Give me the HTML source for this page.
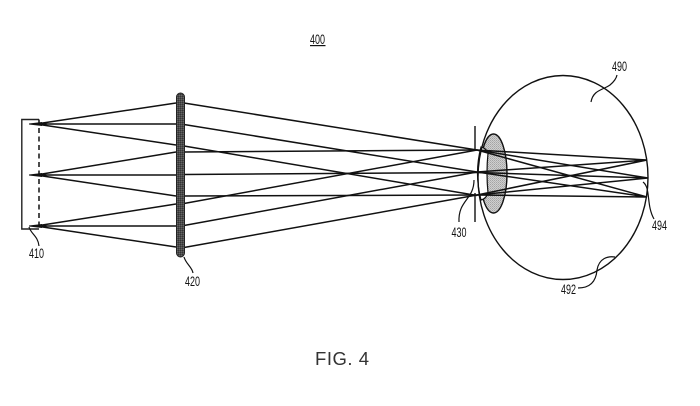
<!DOCTYPE html>
<html>
<head>
<meta charset="utf-8">
<style>
html,body{margin:0;padding:0;background:#fff;width:700px;height:406px;overflow:hidden}
svg{display:block;filter:blur(0.3px)}
text{font-family:"Liberation Sans",sans-serif;fill:#111}
</style>
</head>
<body>
<svg width="700" height="406" viewBox="0 0 700 406" xmlns="http://www.w3.org/2000/svg">
<defs>
<pattern id="d" width="2" height="2" patternUnits="userSpaceOnUse">
<rect width="2" height="2" fill="#cfcfcf"/><rect width="1" height="1" fill="#a4a4a4"/><rect x="1" y="1" width="1" height="1" fill="#b4b4b4"/>
</pattern>
<pattern id="l" width="2" height="2" patternUnits="userSpaceOnUse">
<rect width="2" height="2" fill="#4a4a4a"/><rect width="1" height="1" fill="#333"/><rect x="1" y="1" width="1" height="1" fill="#666"/>
</pattern>
</defs>

<!-- crystalline lens -->
<ellipse cx="493.5" cy="173.5" rx="13.5" ry="39.5" fill="url(#d)" stroke="#111" stroke-width="1.4"/>
<path d="M481 147 Q486 148 488 153 Q486 173 488 193 Q486 199 481 200 Q474 173 481 147Z" fill="#fff" stroke="#111" stroke-width="1.2"/>
<!-- eye -->
<ellipse cx="563" cy="177.5" rx="85" ry="102" fill="none" stroke="#111" stroke-width="1.4"/>

<g stroke="#111" stroke-width="1.5" fill="none">
<!-- source to lens -->
<path d="M36 124L176 103M36 124H176M36 124L176 145"/>
<path d="M36 175L176 152M36 175H176M36 175L176 196"/>
<path d="M36 226L176 204M36 226H176M36 226L176 247"/>
<!-- lens to pupil -->
<path d="M184 103L477 150M184 124.5L477 172M184 146L477 195.5"/>
<path d="M184 152L477 150M184 174.5L477 172.5M184 196L477 195"/>
<path d="M184 203.5L477 150M184 225.5L477 172M184 247.5L477 195"/>
<!-- pupil to retina -->
<path d="M477 150L647 197M477 172L647 197M477 195L647 197"/>
<path d="M477 150L648 178M477 172.5L648 178M477 195L648 178"/>
<path d="M477 150L647 160M477 172L647 160M477 195L647 160"/>
</g>
<!-- source tips -->
<g fill="#111">
<path d="M29 123.5L42 122V126L29 124.5Z"/>
<path d="M29 174.5L42 173V177L29 175.5Z"/>
<path d="M29 225.5L42 224V228L29 226.5Z"/>
</g>
<!-- display bracket -->
<path d="M39 119.5H21.8V229H39" fill="none" stroke="#222" stroke-width="1.4"/>
<path d="M39 119.5V229" fill="none" stroke="#111" stroke-width="1.5" stroke-dasharray="5 3.5"/>
<!-- lens 420 -->
<rect x="176.5" y="93" width="8" height="164" rx="4" fill="url(#l)" stroke="#222" stroke-width="1"/>
<!-- aperture 430 -->
<path d="M475 126V150M475 193V222" stroke="#111" stroke-width="1.4" fill="none"/>

<!-- leaders -->
<g fill="none" stroke="#111" stroke-width="1.2">
<path d="M29 227C31 234 38 236 39 246"/>
<path d="M184 257C186 264 192 267 193 273"/>
<path d="M474 180C474 200 458 200 459 222"/>
<path d="M591 102C593 90 603 90 610 85Q616 80 617 75"/>
<path d="M643 182C651 188 646 205 654 219"/>
<path d="M578 288C590 288 596 282 597 270C599 258 608 256 615 257"/>
</g>

<!-- labels -->
<g font-size="14">
<text x="29" y="258" textLength="15" lengthAdjust="spacingAndGlyphs">410</text>
<text x="185" y="286" textLength="15" lengthAdjust="spacingAndGlyphs">420</text>
<text x="451.5" y="237" textLength="15" lengthAdjust="spacingAndGlyphs">430</text>
<text x="612" y="71" textLength="15" lengthAdjust="spacingAndGlyphs">490</text>
<text x="561" y="294" textLength="15" lengthAdjust="spacingAndGlyphs">492</text>
<text x="652" y="230" textLength="15" lengthAdjust="spacingAndGlyphs">494</text>
<text x="310" y="44" textLength="15" lengthAdjust="spacingAndGlyphs">400</text>
</g>
<rect x="310" y="45" width="15.5" height="1.2" fill="#111"/>
<text x="315" y="365" font-size="18.5" textLength="54" lengthAdjust="spacing" style="fill:#333">FIG. 4</text>
</svg>
</body>
</html>
